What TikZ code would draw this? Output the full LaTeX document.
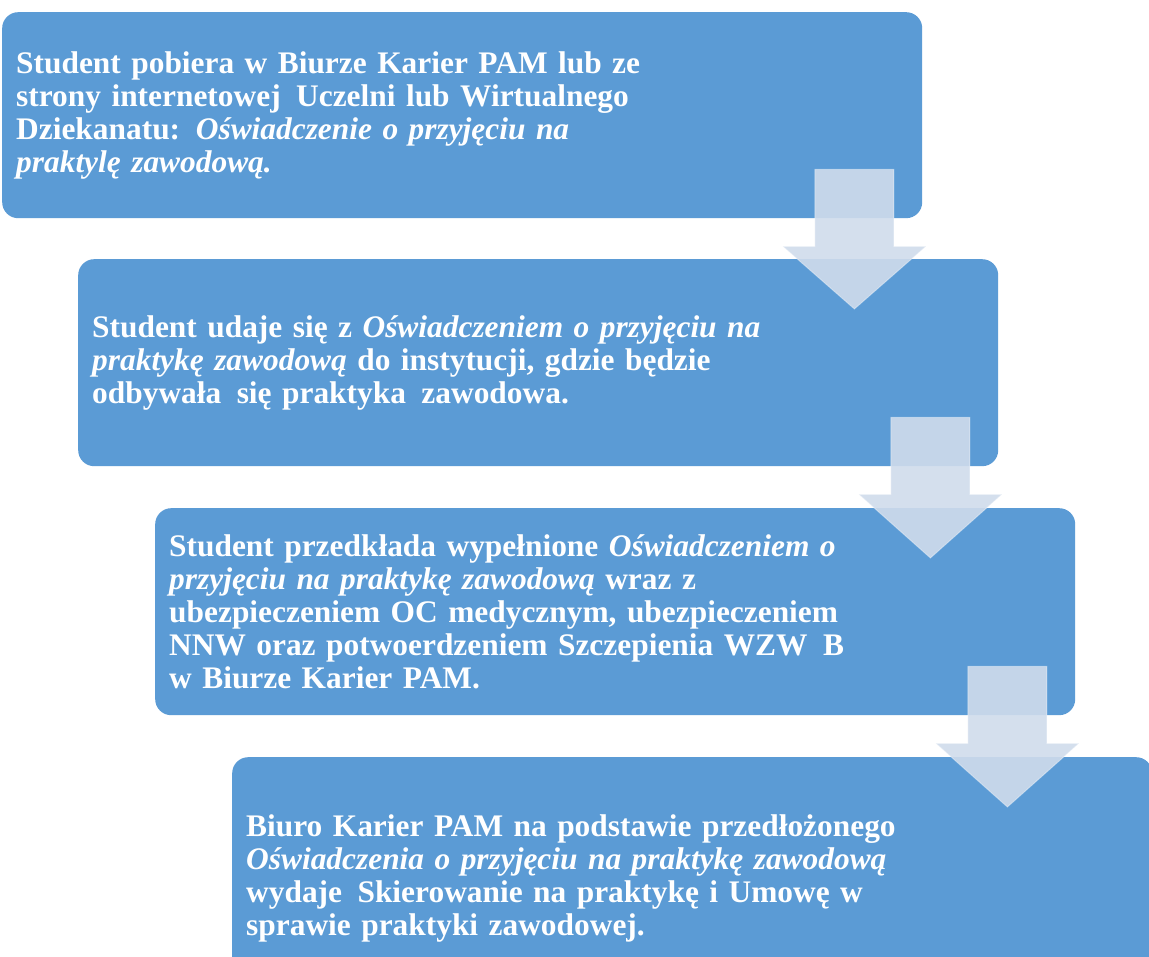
\documentclass[tikz,border=0pt]{standalone}
\usepackage{fontspec}
\setmainfont{Liberation Serif}
\usetikzlibrary{calc}
\definecolor{boxblue}{RGB}{91,155,213}
\definecolor{arrowtint}{RGB}{208,220,236}

\begin{document}
\begin{tikzpicture}[
    x=1pt, y=-1pt,
    box/.style={rectangle, rounded corners=16pt, fill=boxblue, draw=none,
                anchor=north west, minimum width=920pt, minimum height=207pt,
                text width=892pt, inner xsep=14pt, inner ysep=0pt, align=left,
                text=white, font=\fontsize{31.4}{33}\selectfont\bfseries},
    flow/.style={fill=arrowtint, fill opacity=0.9, draw=white, draw opacity=0.35,
                 line width=1pt}
]
\path[use as bounding box, fill=white] (0,0) rectangle (1149,957);

% --- the four steps ---
\node[box, minimum height=206pt] (download) at (2,12)
    {Student pobiera w Biurze Karier PAM lub ze\\
     strony internetowej \hspace{5pt}Uczelni lub Wirtualnego\\
     Dziekanatu: \textit{Oświadczenie o przyjęciu na}\\
     \textit{praktylę zawodową.}};
\node[box] (visit) at (78,259)
    {Student udaje się z \textit{Oświadczeniem o przyjęciu na}\\
     \textit{praktykę zawodową} do instytucji, gdzie będzie\\
     odbywała \hspace{5pt}się praktyka \hspace{5pt}zawodowa.};
\node[box] (submit) at (155,508)
    {Student przedkłada wypełnione \textit{Oświadczeniem o}\\
     \textit{przyjęciu na praktykę zawodową} wraz z\\
     ubezpieczeniem OC medycznym, ubezpieczeniem\\
     NNW oraz potwoerdzeniem Szczepienia WZW \hspace{5pt}B\\
     w Biurze Karier PAM.};
\node[box, minimum height=242pt] (issue) at (232,757)
    {Biuro Karier PAM na podstawie przedłożonego\\
     \textit{Oświadczenia o przyjęciu na praktykę zawodową}\\
     wydaje \hspace{5pt}Skierowanie na praktykę i Umowę w\\
     sprawie praktyki zawodowej.};

% --- arrows between steps ---
\foreach \a/\b in {download/visit, visit/submit, submit/issue} {
  \coordinate (\a-c) at ($(\a.south east)+(-68,0)$);
  \path[flow] ($(\a-c)+(-39.5,-49)$) -- ($(\a-c)+(39.5,-49)$)
      -- ($(\a-c)+(39.5,28)$) -- ($(\a-c)+(71.5,28)$)
      -- ($(\a-c |- \b.north)+(0,50)$)
      -- ($(\a-c)+(-71.5,28)$) -- ($(\a-c)+(-39.5,28)$) -- cycle;
}

\end{tikzpicture}
\end{document}
